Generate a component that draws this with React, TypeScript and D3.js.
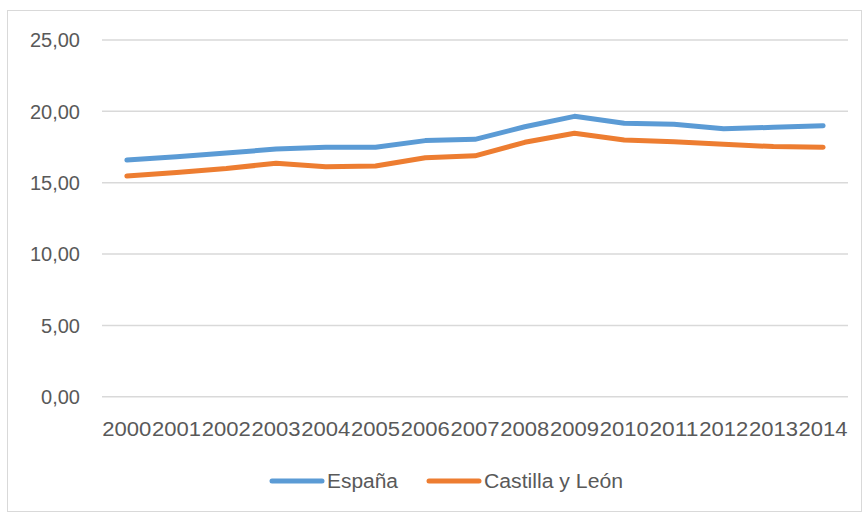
import React from "react";
import * as d3 from "d3";

const years = ["2000","2001","2002","2003","2004","2005","2006","2007","2008","2009","2010","2011","2012","2013","2014"];
const espana = [16.59,16.82,17.08,17.36,17.48,17.48,17.95,18.04,18.92,19.65,19.16,19.09,18.78,18.88,18.99];
const castilla = [15.47,15.72,16.0,16.36,16.12,16.17,16.75,16.88,17.83,18.46,17.99,17.87,17.69,17.53,17.48];
const yTicks = [0,5,10,15,20,25];
const seriesNames = ["España","Castilla y León"];
const colors = ["#5B9BD5","#ED7D31"];

export default function App() {
  const W = 864, H = 513;
  const x = d3.scaleBand().domain(years).range([102, 848]);
  const y = d3.scaleLinear().domain([0, 25]).range([396.75, 40]);
  const line = d3.line<number>()
    .x((_, i) => (x(years[i]) as number) + x.bandwidth() / 2)
    .y(d => y(d));
  const fmt = (v: number) => v.toFixed(2).replace(".", ",");
  const font = "'Liberation Sans', Arial, sans-serif";
  const legend = [
    { x0: 270, name: seriesNames[0], color: colors[0], len: 71 },
    { x0: 427, name: seriesNames[1], color: colors[1], len: 139 },
  ];
  return (
    <svg width={W} height={H} style={{ position: "absolute", left: 0, top: 0, background: "#fff" }}>
      <rect x={7.5} y={10.5} width={854} height={501} fill="#fff" stroke="#d9d9d9" strokeWidth={1} />
      {yTicks.map(t => (
        <g key={t}>
          <line x1={102} x2={848} y1={y(t)} y2={y(t)} stroke="#d9d9d9" strokeWidth={1.5} />
          <text x={80} y={y(t)} dy="0.36em" textAnchor="end" fontFamily={font} fontSize={20} fill="#595959">{fmt(t)}</text>
        </g>
      ))}
      {years.map(yr => (
        <text key={yr} x={(x(yr) as number) + x.bandwidth() / 2} y={435.5} textAnchor="middle"
          fontFamily={font} fontSize={20} fill="#595959" textLength={49} lengthAdjust="spacingAndGlyphs">{yr}</text>
      ))}
      <path d={line(espana) || ""} fill="none" stroke={colors[0]} strokeWidth={5} strokeLinecap="round" strokeLinejoin="round" />
      <path d={line(castilla) || ""} fill="none" stroke={colors[1]} strokeWidth={5} strokeLinecap="round" strokeLinejoin="round" />
      {legend.map(l => (
        <g key={l.name}>
          <line x1={l.x0 + 2} x2={l.x0 + 52} y1={481} y2={481} stroke={l.color} strokeWidth={5} strokeLinecap="round" />
          <text x={l.x0 + 57} y={481} dy="0.36em" fontFamily={font} fontSize={20} fill="#595959"
            textLength={l.len} lengthAdjust="spacingAndGlyphs">{l.name}</text>
        </g>
      ))}
    </svg>
  );
}
